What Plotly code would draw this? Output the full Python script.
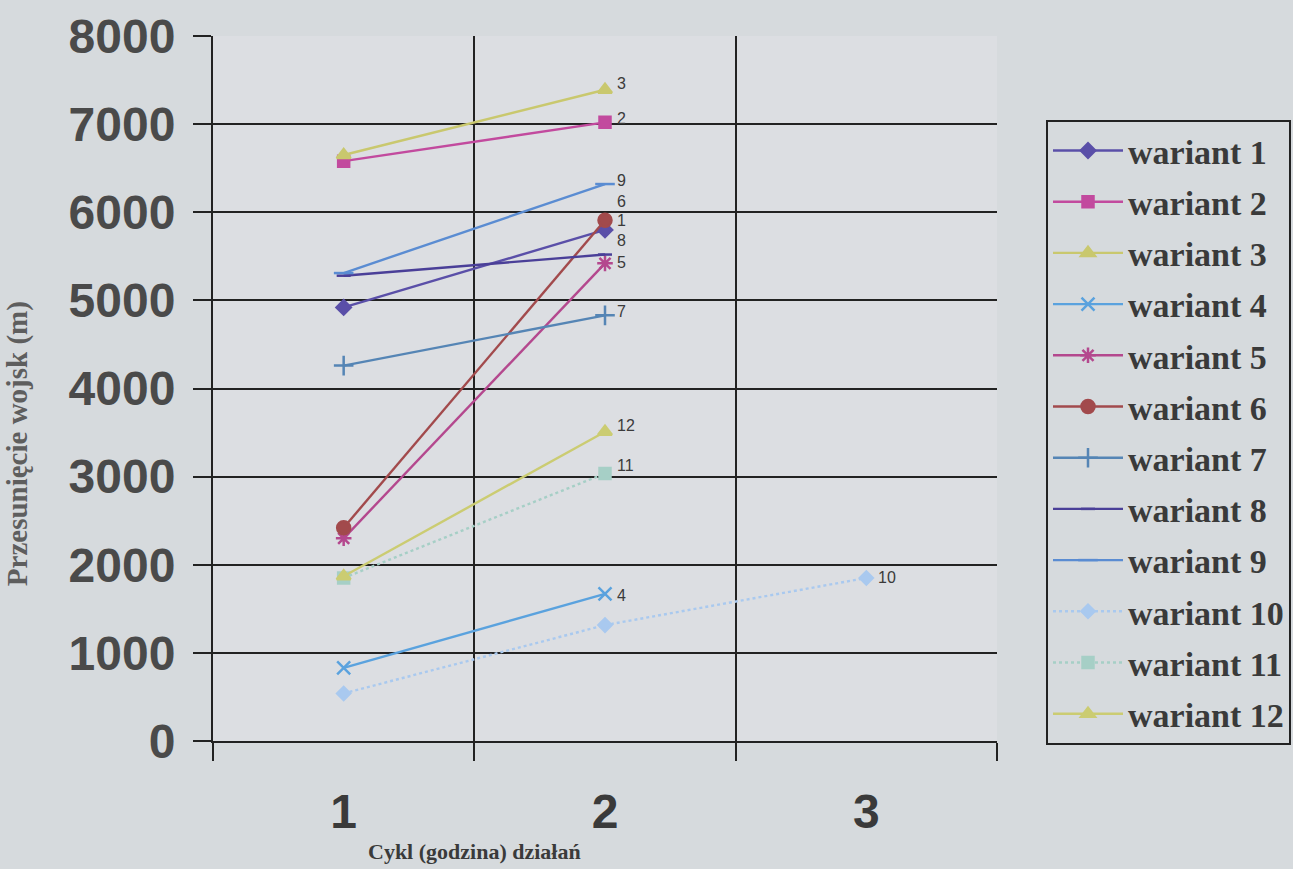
import plotly.graph_objects as go

cycles = [1, 2, 3]
x_labels = ["1", "2", "3"]
y_ticks = [0, 1000, 2000, 3000, 4000, 5000, 6000, 7000, 8000]

series_names = [f"wariant {i}" for i in range(1, 13)]
w1 = [4920, 5800]
w2 = [6580, 7020]
w3 = [6650, 7390]
w4 = [830, 1670]
w5 = [2300, 5420]
w6 = [2420, 5910]
w7 = [4260, 4830]
w8 = [5280, 5520]
w9 = [5310, 6320]
w10 = [540, 1315, 1850]
w11 = [1850, 3035]
w12 = [1870, 3510]
values = [w1, w2, w3, w4, w5, w6, w7, w8, w9, w10, w11, w12]
point_labels = ["1", "2", "3", "4", "5", "6", "7", "8", "9", "10", "11", "12"]

colors = ["#5a4fa8", "#c24a9e", "#c9c86e", "#5aa2de", "#b4488e", "#a24a4c",
          "#5585b5", "#4a3f98", "#5a8cd2", "#a9c9ef", "#a6cfc6", "#cbcc72"]
symbols = ["diamond", "square", "triangle-up", "x-thin-open", "asterisk-open", "circle",
           "cross-thin-open", "line-ew-open", "line-ew-open", "diamond", "square", "triangle-up"]
sizes = [11, 11, 12, 13, 13, 13, 14, 10, 14, 10, 11, 12]
dashes = ["solid"] * 9 + ["dot", "dot", "solid"]
label_yshift = [9, 4, 6, -2, 1, 19, 4, 14, 4, 0, 8, 6]

fig = go.Figure()
for i, (name, vals) in enumerate(zip(series_names, values)):
    fig.add_trace(go.Scatter(
        x=cycles[:len(vals)], y=vals, name=f"<b>{name}</b>", mode="lines+markers",
        legendgroup=name,
        line=dict(color=colors[i], width=2.4, dash=dashes[i]),
        marker=dict(symbol=symbols[i], size=sizes[i], color=colors[i],
                    line=dict(color=colors[i], width=2.5)),
    ))
    fig.add_annotation(x=cycles[len(vals) - 1], y=vals[-1], text=point_labels[i],
                       showarrow=False, xanchor="left", xshift=10, yshift=label_yshift[i],
                       font=dict(family="Liberation Sans", size=16, color="#3a3a3a"))

# axis titles placed as in the reference
fig.add_annotation(xref="paper", yref="paper", x=0.334, y=-0.157,
                   text="<b>Cykl (godzina) działań</b>", showarrow=False,
                   xanchor="center", yanchor="middle",
                   font=dict(family="Liberation Serif", size=22, color="#3a3a3a"))
fig.add_annotation(xref="paper", yref="paper", x=-0.25, y=0.421,
                   text="<b>Przesunięcie wojsk (m)</b>", showarrow=False, textangle=-90,
                   xanchor="center", yanchor="middle",
                   font=dict(family="Liberation Serif", size=29, color="#5e5e5e"))

fig.update_layout(
    width=1293, height=869,
    margin=dict(l=213, r=296, t=36, b=128, autoexpand=False),
    paper_bgcolor="#d6dadd",
    plot_bgcolor="#dcdee2",
    showlegend=True,
    legend=dict(
        x=1.0625, y=0.881, xanchor="left", yanchor="top",
        bgcolor="rgba(0,0,0,0)", bordercolor="#222", borderwidth=2,
        font=dict(family="Liberation Serif", size=34, color="#3a3a3a"),
        tracegroupgap=4, itemwidth=70,
    ),
    xaxis=dict(
        range=[0.5, 3.5], tickvals=cycles, ticktext=[f"<b>{t}</b>" for t in x_labels],
        showgrid=False, zeroline=False, ticks="",
        tickfont=dict(family="Liberation Sans", size=48, color="#3a3a3a"),
        ticklabelstandoff=27,
        showline=True, linecolor="#222", linewidth=2,
        minor=dict(tickvals=[0.5, 1.5, 2.5, 3.5], ticks="outside", ticklen=18,
                   tickcolor="#222", tickwidth=2, showgrid=True,
                   gridcolor="#222", gridwidth=2),
    ),
    yaxis=dict(
        range=[0, 8000], tickvals=y_ticks,
        ticktext=[f"<b>{v}</b>" for v in y_ticks],
        showgrid=True, gridcolor="#222", gridwidth=2, zeroline=False,
        ticks="outside", ticklen=18, tickcolor="#222", tickwidth=2,
        tickfont=dict(family="Liberation Sans", size=48, color="#4a4a4a"),
        ticklabelstandoff=8,
        showline=True, linecolor="#222", linewidth=2,
    ),
)

fig.write_html("out.html")
